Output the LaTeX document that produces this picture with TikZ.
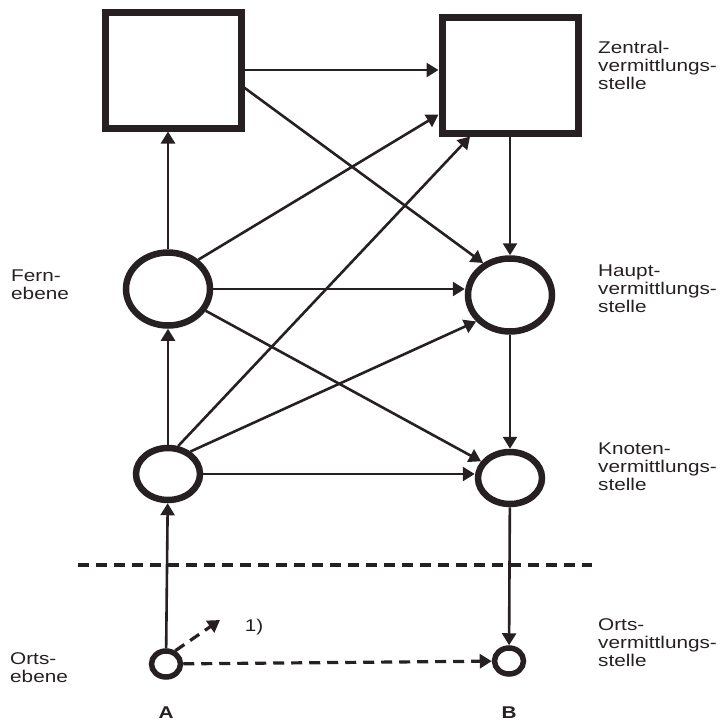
\documentclass[tikz,border=0pt]{standalone}
\usepackage{fontspec}
\setmainfont[FakeStretch=1.22]{Liberation Sans}
\usepackage{xcolor}
\usetikzlibrary{arrows.meta,positioning,shapes.geometric}
\definecolor{ink}{RGB}{38,32,34}

\begin{document}
\begin{tikzpicture}[
  x=1pt, y=-1pt,
  amt/.style={draw=ink, line width=7pt, minimum width=136pt, minimum height=116pt, inner sep=0pt},
  stelle/.style={ellipse, draw=ink, line width=6.5pt, inner sep=0pt},
  ort/.style={ellipse, draw=ink, line width=5.5pt, minimum width=29pt, minimum height=26pt, inner sep=0pt},
  arr/.style={-{Triangle[length=12pt,width=14pt]}, line width=2.6pt, draw=ink},
  darr/.style={arr, line width=3.2pt, dash pattern=on 11pt off 7pt},
  lbl/.style={font=\fontsize{17}{18}\selectfont, align=left, anchor=north west, inner sep=0pt, text=ink},
]
\useasboundingbox (0,0) rectangle (720,724);

% Vermittlungsstellen
\node[amt] (zentA) at (173,70) {};
\node[amt] (zentB) at (510,75) {};
\node[stelle, minimum width=84pt, minimum height=73pt] (fern)  at (168,289) {};
\node[stelle, minimum width=84pt, minimum height=73pt] (haupt) at (510,295) {};
\node[stelle, minimum width=64pt, minimum height=52pt] (knotenA) at (168,474) {};
\node[stelle, minimum width=64pt, minimum height=52pt] (knotenB) at (510,478) {};
\node[ort] (ortsA) at (166,664) {};
\node[ort] (ortsB) at (509,661) {};
\coordinate (tip1) at (220,620);

% Verbindungen
\draw[arr] (zentA.east) -- (zentA.east -| zentB.west);
\draw[arr] (zentA.-14) -- (haupt.130);
\draw[arr] (fern.north) -- (fern.north |- zentA.south);
\draw[arr] (fern.44) -- (zentB.-151);
\draw[arr] (fern.east) -- (fern.east -| haupt.west);
\draw[arr] (fern.-30) -- (knotenB.150);
\draw[arr] (knotenA) -- (fern);
\draw[arr] (knotenA.70) -- (zentB.-123);
\draw[arr] (knotenA.45) -- (haupt.-142);
\draw[arr] (knotenA.east) -- (knotenA.east -| knotenB.west);
\draw[arr] (ortsA) -- (knotenA);
\draw[arr] (zentB) -- (haupt);
\draw[arr] (haupt) -- (knotenB);
\draw[arr] (knotenB) -- (ortsB);
\draw[darr] (ortsA) -- (ortsB);
\draw[darr] (ortsA.55) -- (tip1);
\draw[ink, line width=3.2pt, dash pattern=on 11pt off 7pt] (78,565) -- (592,565);

% Beschriftung
\node[lbl] (lzent)  at (598,41)  {Zentral-\\vermittlungs-\\stelle};
\node[lbl] (lhaupt) at (598,265) {Haupt-\\vermittlungs-\\stelle};
\node[lbl] (lknot)  at (598,443) {Knoten-\\vermittlungs-\\stelle};
\node[lbl] (lorts)  at (598,618) {Orts-\\vermittlungs-\\stelle};
\node[lbl] (lfern)  at (11,270)  {Fern-\\ebene};
\node[lbl] (lortse) at (10,652)  {Orts-\\ebene};
\node[font=\fontsize{17}{18}\selectfont, text=ink, inner sep=0pt] (eins) at (254,627) {1)};
\node[font=\fontsize{17}{18}\selectfont\bfseries, text=ink, inner sep=0pt] (la) at (166,713) {A};
\node[font=\fontsize{17}{18}\selectfont\bfseries, text=ink, inner sep=0pt] (lb) at (509,713) {B};
\end{tikzpicture}
\end{document}
